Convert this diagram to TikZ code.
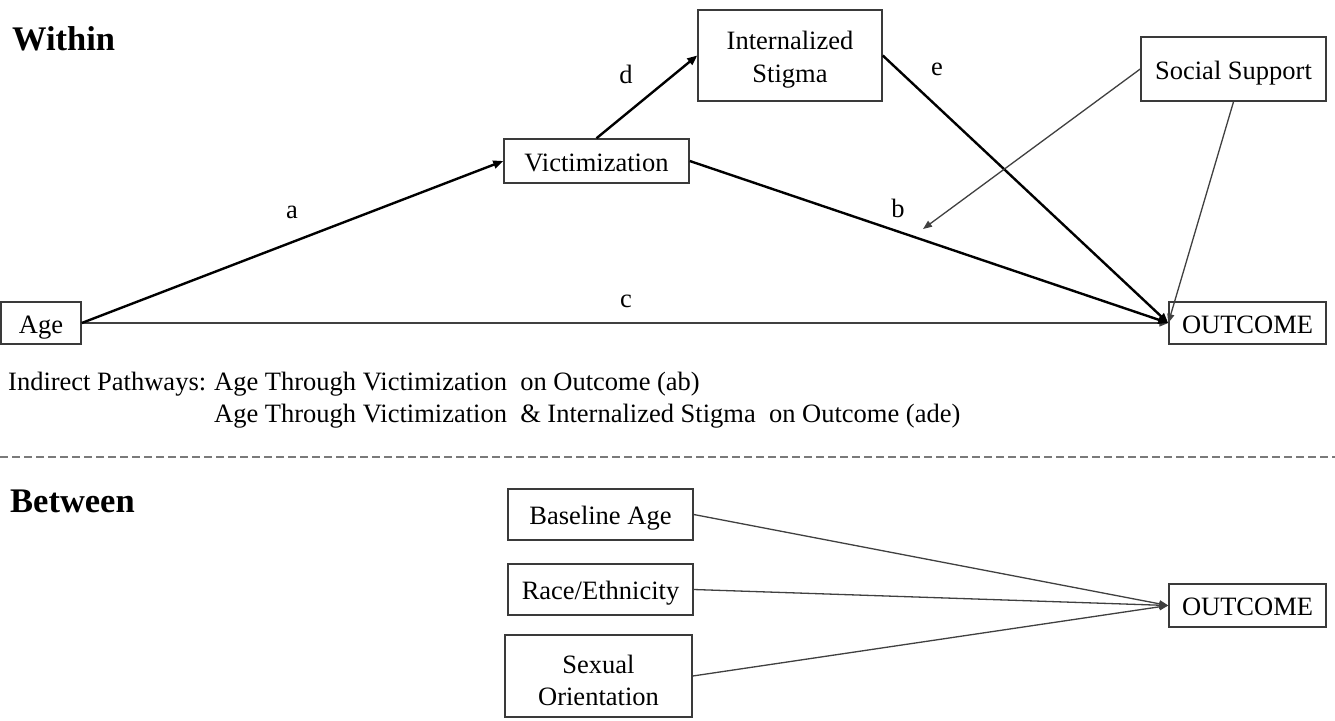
\documentclass[tikz,border=0pt]{standalone}
\usepackage{fontspec}
\setmainfont{Liberation Serif}
\usetikzlibrary{arrows.meta}
\definecolor{boxgray}{HTML}{3A3A3A}
\definecolor{linegray}{HTML}{404040}
\definecolor{dashgray}{HTML}{7A7A7A}
\begin{document}
\begin{tikzpicture}[x=1pt,y=-1pt,
  box/.style={draw=boxgray, line width=1.5pt, inner sep=0pt, align=center,
    text height=20pt, text depth=0pt,
    font=\fontsize{26.5}{33}\selectfont},
  lbl/.style={inner sep=0pt, font=\fontsize{26.5}{32}\selectfont},
  head/.style={inner sep=0pt, font=\fontsize{34.5}{40}\selectfont\bfseries},
  thickarr/.style={line width=2.4pt, draw=black, -{Triangle[length=10pt,width=8pt]}},
  thinarr/.style={line width=1.3pt, draw=linegray, -{Triangle[length=9pt,width=7pt]}},
]
\useasboundingbox (0,0) rectangle (1335,720);
\fill[white] (0,0) rectangle (1335,720);

% headings
\node[head, anchor=base west] (within) at (12,50) {Within};
\node[head, anchor=base west] (between) at (10,512) {Between};

% Within section boxes
\node[box, minimum width=80, minimum height=42] (age) at (41,323) {Age};
\node[box, minimum width=185, minimum height=44] (vict) at (596.5,161) {Victimization};
\node[box, minimum width=184, minimum height=91, text height=59pt, text depth=6pt] (stig) at (790,55.5) {Internalized\\Stigma};
\node[box, minimum width=185, minimum height=64] (soc) at (1233.5,69) {Social Support};
\node[box, minimum width=157, minimum height=42] (out1) at (1247.5,323) {OUTCOME};
\coordinate (bmod) at (923,229);

% paths
\draw[thinarr] (age.east) -- (out1.west);
\draw[thickarr] (age.east) -- (vict.west);
\draw[thickarr] (vict.north) -- (stig.west);
\draw[thickarr] (vict.east) -- (out1.west);
\draw[thickarr] (stig.east) -- (out1.west);
\draw[thinarr] (soc.west) -- (bmod);
\draw[thinarr] (soc.south) -- (out1.west);

% path labels
\node[lbl] (la) at (292,212) {a};
\node[lbl] (lb) at (898,208) {b};
\node[lbl] (lc) at (626,301) {c};
\node[lbl] (ld) at (626,74) {d};
\node[lbl] (le) at (937,69) {e};

% indirect pathways text
\node[lbl, anchor=base west] (ip) at (8,390) {Indirect Pathways:};
\node[lbl, anchor=base west] (ip1) at (214,390) {Age Through Victimization\ \ on Outcome (ab)};
\node[lbl, anchor=base west] (ip2) at (214,422) {Age Through Victimization\ \ \& Internalized Stigma\ \ on Outcome (ade)};

% divider
\coordinate (dl) at (0,457);
\coordinate (dr) at (1335,457);
\draw[dashgray, line width=1.8pt, dash pattern=on 8pt off 4pt] (dl) -- (dr);

% Between section
\node[box, minimum width=185, minimum height=51] (base) at (600.5,514.5) {Baseline Age};
\node[box, minimum width=185, minimum height=51] (race) at (600.5,589.5) {Race/Ethnicity};
\node[box, minimum width=187, minimum height=82, text height=64pt, text depth=6pt,
  font=\fontsize{26.5}{32}\selectfont] (sex) at (598.5,676) {Sexual\\Orientation};
\node[box, minimum width=157, minimum height=43] (out2) at (1247.5,605.5) {OUTCOME};

\draw[thinarr] (base.east) -- (out2.west);
\draw[thinarr] (race.east) -- (out2.west);
\draw[thinarr] (sex.east) -- (out2.west);
\end{tikzpicture}
\end{document}
